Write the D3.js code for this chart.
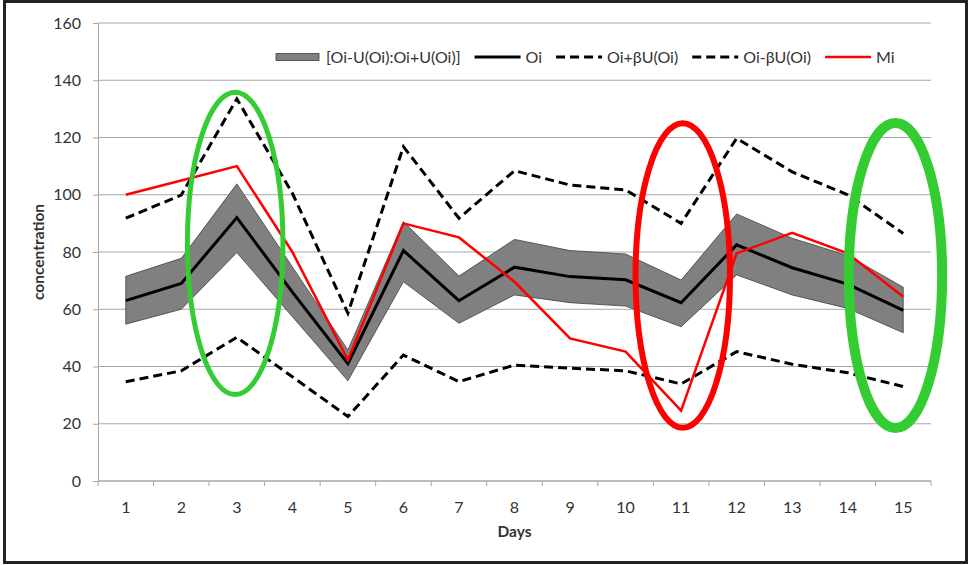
<!DOCTYPE html>
<html lang="en">
<head>
<meta charset="UTF-8">
<title>Concentration by day</title>
<script src="https://d3js.org/d3.v7.min.js"></script>
<style>
  body { margin: 0; background: #fff; }
  svg text { font-family: Lato, "Open Sans", sans-serif; fill: #333; }
</style>
</head>
<body>
<div id="chart"></div>
<script>
// values
const days = [1, 2, 3, 4, 5, 6, 7, 8, 9, 10, 11, 12, 13, 14, 15];
const oi = [63, 69, 92, 66, 41, 80.5, 63, 74.7, 71.4, 70.3, 62.3, 82.5, 74.5, 68.8, 59.6];
const bandLow = [54.8, 60, 79.8, 57.4, 35, 69.6, 55.1, 65, 62.3, 61.1, 53.9, 72, 65, 60.3, 51.8];
const bandHigh = [71.5, 77.8, 103.8, 74.8, 45.8, 90.6, 71.6, 84.4, 80.5, 79.3, 70.2, 93.3, 84.8, 78.8, 67.7];
const plusBeta = [91.8, 99.9, 133.5, 100.5, 58.6, 116.8, 91.8, 108.4, 103.4, 101.7, 90, 119.7, 108, 100, 86.5];
const minusBeta = [34.7, 38.5, 50.2, 36.4, 22.5, 44, 34.7, 40.5, 39.4, 38.5, 33.9, 45.2, 40.8, 37.8, 33];
const mi = [100, 105, 110, 80, 42.3, 90, 85.1, 69.6, 49.8, 45.2, 24.6, 79.5, 86.7, 79.5, 64.4];
const yTicks = [0, 20, 40, 60, 80, 100, 120, 140, 160];

const legendNames = ["[Oi-U(Oi):Oi+U(Oi)]", "Oi", "Oi+\u03b2U(Oi)", "Oi-\u03b2U(Oi)", "Mi"];

// highlighted regions (day, centre value, half widths in days / values)
const marks = [
  { day: 2.97, value: 83, rx: 0.86, ry: 52.8, color: "#33cc33", width: 5 },
  { day: 11.03, value: 71.8, rx: 0.85, ry: 53.2, color: "#ff0000", width: 6 },
  { day: 14.86, value: 71.8, rx: 0.84, ry: 53.3, color: "#33cc33", width: 10 }
];

const W = 969, H = 565;
const svg = d3.select("#chart").append("svg")
  .attr("width", W).attr("height", H);

// outer frame
svg.append("rect")
  .attr("x", 4.5).attr("y", 1.5)
  .attr("width", 962).attr("height", 561)
  .attr("fill", "#fff").attr("stroke", "#222").attr("stroke-width", 3);

const x = d3.scaleLinear().domain([0.5, 15.5]).range([98, 931]);
const y = d3.scaleLinear().domain([0, 160]).range([481, 23]);

// gridlines
svg.append("g")
  .selectAll("line")
  .data(yTicks)
  .join("line")
  .attr("x1", x(0.5)).attr("x2", x(15.5))
  .attr("y1", d => y(d)).attr("y2", d => y(d))
  .attr("stroke", "#a6a6a6").attr("stroke-width", 1);

// y axis
const yAxis = svg.append("g")
  .attr("transform", `translate(${x(0.5)},0)`)
  .call(d3.axisLeft(y).tickValues(yTicks).tickSize(5).tickPadding(12));
yAxis.select(".domain").attr("stroke", "#a6a6a6");
yAxis.selectAll(".tick line").attr("stroke", "#a6a6a6");
yAxis.selectAll("text").style("font-size", "16px").attr("fill", "#333");

// x axis: ticks between categories, labels at centres
const xAxis = svg.append("g").attr("transform", `translate(0,${y(0)})`);
xAxis.append("line")
  .attr("x1", x(0.5)).attr("x2", x(15.5))
  .attr("stroke", "#a6a6a6");
xAxis.selectAll(".tk")
  .data(days.concat([0]))
  .join("line")
  .attr("class", "tk")
  .attr("x1", d => x(d + 0.5)).attr("x2", d => x(d + 0.5))
  .attr("y1", 0).attr("y2", 5)
  .attr("stroke", "#a6a6a6");
xAxis.selectAll("text")
  .data(days)
  .join("text")
  .attr("x", d => x(d)).attr("y", 32)
  .attr("text-anchor", "middle")
  .style("font-size", "16px")
  .text(d => d);

// axis titles
svg.append("text")
  .attr("x", x(8)).attr("y", 537)
  .attr("text-anchor", "middle")
  .style("font-size", "15.5px").style("font-weight", "bold")
  .attr("fill", "#111")
  .text("Days");
svg.append("text")
  .attr("transform", `translate(44,${y(80)}) rotate(-90)`)
  .attr("text-anchor", "middle")
  .style("font-size", "15.5px").style("font-weight", "bold")
  .attr("fill", "#111")
  .text("concentration");

const idx = days.map((d, i) => i);

// uncertainty band
const band = d3.area()
  .x(i => x(days[i]))
  .y0(i => y(bandLow[i]))
  .y1(i => y(bandHigh[i]));
svg.append("path")
  .datum(idx)
  .attr("d", band)
  .attr("fill", "#808080").attr("stroke", "#404040").attr("stroke-width", 0.8);

function drawLine(values, color, width, dash) {
  const line = d3.line().x(i => x(days[i])).y(i => y(values[i]));
  svg.append("path")
    .datum(idx)
    .attr("d", line)
    .attr("fill", "none")
    .attr("stroke", color)
    .attr("stroke-width", width)
    .attr("stroke-dasharray", dash || null)
    .attr("stroke-linejoin", "miter");
}

drawLine(plusBeta, "#000", 3, "9,5");
drawLine(minusBeta, "#000", 3, "9,5");
drawLine(oi, "#000", 3);
drawLine(mi, "#ff0000", 2.5);

// ellipses
svg.append("g")
  .selectAll("ellipse")
  .data(marks)
  .join("ellipse")
  .attr("cx", d => x(d.day))
  .attr("cy", d => y(d.value))
  .attr("rx", d => x(d.day + d.rx) - x(d.day))
  .attr("ry", d => y(d.value - d.ry) - y(d.value))
  .attr("fill", "none")
  .attr("stroke", d => d.color)
  .attr("stroke-width", d => d.width);

// legend
const legend = svg.append("g").attr("transform", "translate(276,57)");
let lx = 0;
legendNames.forEach((name, i) => {
  const g = legend.append("g").attr("transform", `translate(${lx},0)`);
  if (i === 0) {
    g.append("rect").attr("x", 0).attr("y", -3.5).attr("width", 43).attr("height", 7)
      .attr("fill", "#808080").attr("stroke", "#404040").attr("stroke-width", 0.8);
  } else {
    g.append("line").attr("x1", 0).attr("x2", 46).attr("y1", 0).attr("y2", 0)
      .attr("stroke", i === 4 ? "#ff0000" : "#000")
      .attr("stroke-width", i === 4 ? 2.5 : 3)
      .attr("stroke-dasharray", (i === 2 || i === 3) ? "9,5" : null);
  }
  const t = g.append("text")
    .attr("x", i === 0 ? 50 : 51).attr("y", 5.5)
    .style("font-size", "16px")
    .text(name);
  lx += (i === 0 ? 50 : 51) + t.node().getComputedTextLength() + 14;
});
</script>
</body>
</html>
